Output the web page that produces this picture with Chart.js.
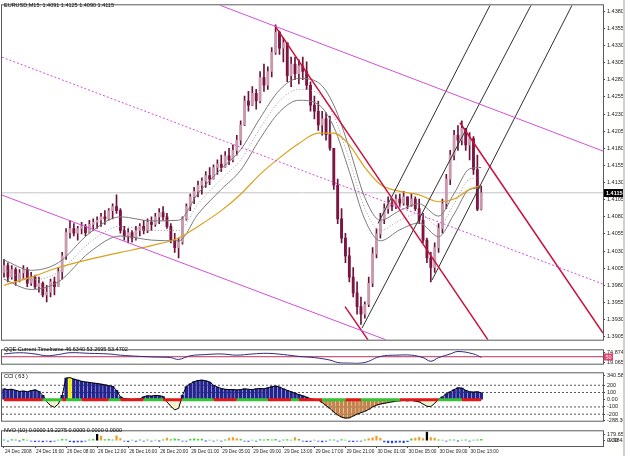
<!DOCTYPE html>
<html><head><meta charset="utf-8">
<script src="https://cdn.jsdelivr.net/npm/chart.js@4.4.1/dist/chart.umd.min.js"></script>
<style>
html,body{margin:0;padding:0;background:#fff;width:625px;height:456px;overflow:hidden;font-family:"Liberation Sans",Arial,sans-serif;}
canvas{position:absolute;left:0;}
.lbl{position:absolute;left:4px;font-size:5.5px;color:#000;white-space:nowrap;line-height:1;}
#edge{position:absolute;left:623px;top:0;width:2px;height:456px;background:#d4d0c8;}
</style></head><body>
<canvas id="cMain" width="625" height="345" style="top:0"></canvas>
<canvas id="cQqe" width="625" height="24" style="top:345px"></canvas>
<canvas id="cCci" width="625" height="58" style="top:368px"></canvas>
<canvas id="cNvo" width="625" height="30" style="top:426px"></canvas>
<div class="lbl" style="top:3px">EURUSD,M15: 1.4091 1.4125 1.4090 1.4115</div>
<div class="lbl" style="top:347px">QQE Current Timeframe 46.6340 53.2695 53.4702</div>
<div class="lbl" style="top:374px">CCI ( 63 )</div>
<div class="lbl" style="top:428px">NVO (10) 0.0000 19.2275 0.0000 0.0000 0.0000</div>
<div id="edge"></div>
<script>
// ---------------- DATA ----------------
const dateLabels = ['24 Dec 2008','24 Dec 16:00','26 Dec 08:00','26 Dec 12:00','26 Dec 16:00','26 Dec 20:00','29 Dec 01:00','29 Dec 05:00','29 Dec 09:00','29 Dec 13:00','29 Dec 17:00','29 Dec 21:00','30 Dec 01:00','30 Dec 05:00','30 Dec 09:00','30 Dec 13:00'];
const dateTickIdx = [0,8,16,24,32,40,48,56,64,72,80,88,96,104,112,120];
const priceTicks = [1.3905,1.3930,1.3955,1.3980,1.4005,1.4030,1.4055,1.4080,1.4105,1.4130,1.4155,1.4180,1.4205,1.4230,1.4255,1.4280,1.4305,1.4330,1.4355,1.4380];
const lastPrice = 1.4115;

const openP = [1.3999,1.4009,1.3992,1.4003,1.3986,1.3998,1.4003,1.3983,1.3992,1.3978,1.3983,1.3966,1.3970,1.3985,1.3978,1.4000,1.4023,1.4057,1.4063,1.4056,1.4063,1.4066,1.4057,1.4069,1.4072,1.4075,1.4080,1.4077,1.4089,1.4095,1.4089,1.4060,1.4052,1.4057,1.4049,1.4060,1.4066,1.4060,1.4072,1.4069,1.4080,1.4086,1.4080,1.4066,1.4046,1.4035,1.4043,1.4077,1.4095,1.4109,1.4117,1.4126,1.4132,1.4140,1.4135,1.4152,1.4157,1.4152,1.4169,1.4163,1.4177,1.4192,1.4214,1.4249,1.4243,1.4260,1.4249,1.4283,1.4272,1.4292,1.4320,1.4349,1.4326,1.4334,1.4286,1.4303,1.4289,1.4300,1.4292,1.4272,1.4243,1.4234,1.4214,1.4223,1.4200,1.4180,1.4126,1.4077,1.4049,1.4023,1.3992,1.3969,1.3949,1.3938,1.3952,1.3983,1.4026,1.4055,1.4077,1.4092,1.4100,1.4095,1.4106,1.4100,1.4109,1.4097,1.4106,1.4092,1.4075,1.4046,1.4020,1.4006,1.4035,1.4063,1.4099,1.4135,1.4170,1.4199,1.4192,1.4209,1.4185,1.4194,1.4149,1.4091];
const highP = [1.4018,1.4013,1.4009,1.4006,1.4003,1.4009,1.4006,1.3999,1.3995,1.3992,1.3985,1.3980,1.3989,1.3992,1.4006,1.4028,1.4063,1.4075,1.4070,1.4066,1.4072,1.4069,1.4075,1.4077,1.4080,1.4085,1.4089,1.4092,1.4099,1.4112,1.4092,1.4066,1.4063,1.4060,1.4066,1.4070,1.4075,1.4077,1.4080,1.4085,1.4092,1.4095,1.4085,1.4070,1.4056,1.4049,1.4080,1.4099,1.4113,1.4123,1.4132,1.4137,1.4146,1.4152,1.4156,1.4163,1.4170,1.4175,1.4180,1.4185,1.4199,1.4220,1.4256,1.4263,1.4270,1.4266,1.4292,1.4303,1.4299,1.4327,1.4360,1.4351,1.4341,1.4334,1.4313,1.4313,1.4309,1.4313,1.4306,1.4277,1.4256,1.4249,1.4234,1.4232,1.4227,1.4180,1.4135,1.4092,1.4056,1.4035,1.4006,1.3985,1.3963,1.3956,1.3992,1.4035,1.4063,1.4085,1.4099,1.4109,1.4106,1.4112,1.4113,1.4117,1.4109,1.4113,1.4109,1.4106,1.4085,1.4049,1.4028,1.4042,1.4070,1.4106,1.4142,1.4177,1.4206,1.4213,1.4220,1.4209,1.4203,1.4197,1.4170,1.4125];
const lowP = [1.3992,1.3985,1.3989,1.3980,1.3985,1.3989,1.3978,1.3980,1.3975,1.3970,1.3963,1.3956,1.3963,1.3966,1.3978,1.3989,1.4018,1.4049,1.4052,1.4046,1.4055,1.4052,1.4056,1.4060,1.4063,1.4066,1.4069,1.4075,1.4077,1.4085,1.4056,1.4046,1.4042,1.4043,1.4046,1.4052,1.4055,1.4057,1.4060,1.4066,1.4070,1.4075,1.4063,1.4042,1.4028,1.4020,1.4040,1.4075,1.4089,1.4099,1.4109,1.4113,1.4123,1.4127,1.4135,1.4142,1.4146,1.4152,1.4156,1.4160,1.4170,1.4185,1.4213,1.4234,1.4242,1.4237,1.4246,1.4263,1.4266,1.4284,1.4317,1.4317,1.4306,1.4277,1.4270,1.4280,1.4274,1.4280,1.4266,1.4234,1.4223,1.4206,1.4199,1.4192,1.4177,1.4120,1.4070,1.4042,1.4013,1.3985,1.3963,1.3938,1.3923,1.3932,1.3949,1.3978,1.4020,1.4049,1.4070,1.4085,1.4089,1.4092,1.4095,1.4097,1.4092,1.4095,1.4089,1.4070,1.4042,1.4013,1.3985,1.3999,1.4028,1.4056,1.4092,1.4127,1.4163,1.4177,1.4185,1.4177,1.4163,1.4142,1.4089,1.4090];
const closeP = [1.4009,1.3992,1.4003,1.3986,1.3998,1.4003,1.3983,1.3992,1.3978,1.3983,1.3966,1.3970,1.3985,1.3978,1.4000,1.4023,1.4057,1.4063,1.4056,1.4063,1.4066,1.4057,1.4069,1.4072,1.4075,1.4080,1.4077,1.4089,1.4095,1.4089,1.4060,1.4052,1.4057,1.4049,1.4060,1.4066,1.4060,1.4072,1.4069,1.4080,1.4086,1.4080,1.4066,1.4046,1.4035,1.4043,1.4077,1.4095,1.4109,1.4117,1.4126,1.4132,1.4140,1.4135,1.4152,1.4157,1.4152,1.4169,1.4163,1.4177,1.4192,1.4214,1.4249,1.4243,1.4260,1.4249,1.4283,1.4272,1.4292,1.4320,1.4349,1.4326,1.4334,1.4286,1.4303,1.4289,1.4300,1.4292,1.4272,1.4243,1.4234,1.4214,1.4223,1.4200,1.4180,1.4126,1.4077,1.4049,1.4023,1.3992,1.3969,1.3949,1.3938,1.3952,1.3983,1.4026,1.4055,1.4077,1.4092,1.4100,1.4095,1.4106,1.4100,1.4109,1.4097,1.4106,1.4092,1.4075,1.4046,1.4020,1.4006,1.4035,1.4063,1.4099,1.4135,1.4170,1.4199,1.4192,1.4209,1.4185,1.4194,1.4149,1.4091,1.4115];

// moving average / envelope (sampled at these bar indices)
const maIdx = [0,7,14,22,30,38,45,50,56,61,66,71,76,81,85,89,93,97,102,107,112,116,120,123];
const maOrange = [1.3980,1.3992,1.4006,1.4018,1.4028,1.4038,1.4049,1.4066,1.4089,1.4113,1.4142,1.4166,1.4187,1.4202,1.4202,1.4185,1.4152,1.4127,1.4117,1.4112,1.4102,1.4106,1.4120,1.4126];
const bandMid = [1.4003,1.3988,1.3999,1.4042,1.4066,1.4060,1.4060,1.4099,1.4135,1.4163,1.4209,1.4249,1.4266,1.4260,1.4227,1.4163,1.4092,1.4060,1.4075,1.4085,1.4066,1.4099,1.4135,1.4137];
const bandUpper = [1.4017,1.4002,1.4013,1.4056,1.4080,1.4074,1.4075,1.4114,1.4150,1.4178,1.4224,1.4265,1.4282,1.4276,1.4243,1.4180,1.4108,1.4075,1.4089,1.4099,1.4081,1.4114,1.4150,1.4152];
const bandLower = [1.3989,1.3974,1.3985,1.4028,1.4052,1.4046,1.4045,1.4084,1.4120,1.4148,1.4194,1.4233,1.4250,1.4244,1.4211,1.4146,1.4076,1.4045,1.4061,1.4071,1.4051,1.4084,1.4120,1.4122];

// drawn objects: [barIndex, price] end points
const channelUpper = [[55.7,1.43886],[154.38,1.41759]];
const channelMid   = [[-0.515,1.43129],[154.38,1.39819]];
const channelLower = [[-0.515,1.41117],[98.45,1.39005]];
const redLineA = [[69.85,1.43586],[124.74,1.39005]];
const redLineB = [[87.89,1.39490],[93.81,1.39005]];
const redLineC = [[117.53,1.42173],[154.38,1.39105]];
const forkA = [[96.4,1.40703],[125.26,1.43886]];
const forkB = [[92.27,1.39176],[135.82,1.43886]];
const forkC = [[110.31,1.39876],[146.39,1.43886]];

// QQE
const qqeIdx = [0,4,8,11,14,17,22,27,30,35,39,43,45,48,52,56,60,64,68,72,76,80,84,86,89,92,94,96,98,101,105,108,110,112,115,117,121,123];
const qqeVal = [65,71.6,65,55.2,61.7,71.6,68.3,65,58.5,51.9,48.6,45.3,35.5,55.2,61.7,65,58.5,65,68.3,61.7,51.9,45.3,32,19,15.8,15.8,25.6,45,55.2,58.5,58.5,45.3,25.7,45.3,65,78.2,65,46.6];
const qqeLevel = 50;
const qqeTicks = [74.8747,19.0653];

// CCI (63)
const cciVal = [150,140,145,130,115,120,110,125,135,115,60,-25,-80,-105,-60,60,300,305,285,270,255,245,240,230,225,215,205,195,185,130,40,15,10,5,8,12,40,55,50,60,55,45,-30,-90,-140,-120,60,180,220,250,265,270,260,245,200,175,155,145,140,140,135,140,150,145,140,150,155,150,165,180,190,175,150,130,110,90,70,55,35,15,5,-5,-40,-80,-120,-170,-210,-240,-255,-250,-225,-200,-180,-160,-135,-100,-75,-60,-50,-40,-30,-20,-15,-10,-15,-10,-20,-30,-60,-90,-95,-50,10,40,80,110,140,165,160,130,110,105,110,95];
const cciLightIdx = [11,12,13,14,42,43,44,45,108,109,110,111];
const cciYellowIdx = [17,112];
const cciLevels = [200,100,-100,-200];
const cciTicks = [340.585,200,100,0,-100,-200,-288.307];
const cciTickLabels = ['340.5850','200','100','0.00','-100','-200','-288.307'];
const cciTrendRuns = [['r',10],['g',5],['r',1],['g',4],['r',7],['g',3],['r',6],['g',5],['r',5],['g',8],['r',6],['g',8],['r',6],['g',2],['r',6],['g',6],['r',4],['g',10],['r',10],['g',6],['r',6]];

// NVO (10)
const nvoVal = [25,-15,30,20,-10,35,15,-20,-30,-25,-35,-20,-40,-15,10,40,30,-30,-45,-40,-35,-20,25,35,185,130,30,40,25,140,60,-20,-30,15,-25,20,-15,25,-20,15,-10,20,75,30,50,40,-15,-20,40,50,35,45,-10,15,-20,10,-15,20,70,85,60,40,-20,-25,15,-15,30,25,40,20,35,-15,20,30,15,90,40,-20,-30,-25,15,-20,-35,-15,20,25,-20,30,15,-25,-30,-20,-15,20,60,80,130,70,-40,-60,-70,-55,-45,-60,-30,50,70,95,60,250,90,70,20,15,-15,25,20,-10,15,20,-15,10,25,35];
const nvoTicks = [179.6571,0,-9.9842];
const nvoTickLabels = ['179.6571','0.00','-9.9842'];

// ---------------- CHARTS ----------------
const FONT = 'Liberation Sans';
const X_MIN = -0.515, X_MAX = 154.38;
const idx = openP.map((_, i) => i);
const pts = arr => arr.map(p => ({x: p[0], y: p[1]}));
const seg = (arr, color, width, dash) => ({type:'line', data: pts(arr), borderColor: color, borderWidth: width, borderDash: dash || [], pointRadius: 0, order: 1});
const smooth = (ix, vals, color, width, dash, order) => ({type:'line', data: ix.map((x, k) => ({x, y: vals[k]})), borderColor: color, borderWidth: width, borderDash: dash || [], pointRadius: 0, cubicInterpolationMode: 'monotone', order});

const framePlugin = {id:'frame', afterDraw(chart){
  const {ctx, chartArea:a} = chart; ctx.save(); ctx.strokeStyle = '#5a5a5a'; ctx.lineWidth = 1;
  ctx.strokeRect(a.left - 0.5, a.top - 0.5, a.right - a.left + 1, a.bottom - a.top + 1); ctx.restore();
}};

function xHidden(){ return {type:'linear', min:X_MIN, max:X_MAX, offset:false, display:false}; }
function yRight(min, max, ticks, labels){
  return {position:'right', min, max,
    afterBuildTicks: s => { s.ticks = ticks.map(v => ({value:v})); },
    afterFit: s => { s.width = 22; },
    ticks:{autoSkip:false, padding:2, color:'#222', font:{size:5.5, family:FONT}, callback:(v, i) => labels ? labels[i] : v.toFixed(4)},
    grid:{drawOnChartArea:false, tickLength:2, color:'#444'},
    border:{display:true, color:'#444'}};
}
const baseOpts = {responsive:false, animation:false, events:[], plugins:{legend:{display:false}, tooltip:{enabled:false}}};

// main price chart
new Chart(document.getElementById('cMain'), {
  type:'line',
  data:{datasets:[
    {type:'line', data:[{x:X_MIN,y:lastPrice},{x:X_MAX,y:lastPrice}], borderColor:'#c4c4c4', borderWidth:1, pointRadius:0, order:20},
    {type:'bar', data: idx.map(i => ({x:i, y:[lowP[i], highP[i]]})), backgroundColor:'#6e1238', barThickness:1, grouped:false, order:6},
    {type:'bar', data: idx.map(i => ({x:i, y:[openP[i], closeP[i]]})), backgroundColor: idx.map(i => closeP[i] >= openP[i] ? '#c89aae' : '#7d1540'), barThickness:2.2, grouped:false, order:5, minBarLength:1},
    smooth(maIdx, bandUpper, '#7a7a7a', 1, [], 3),
    smooth(maIdx, bandMid, '#9a9a9a', 1, [1,2], 3),
    smooth(maIdx, bandLower, '#7a7a7a', 1, [], 3),
    smooth(maIdx, maOrange, '#d9a21b', 1.2, [], 2),
    seg(channelUpper, '#d550d5', 1),
    seg(channelMid, '#d550d5', 1, [2,2]),
    seg(channelLower, '#d550d5', 1),
    seg(redLineA, '#c8103c', 1.5),
    seg(redLineB, '#c8103c', 1.5),
    seg(redLineC, '#c8103c', 1.5),
    seg(forkA, '#303030', 1),
    seg(forkB, '#303030', 1),
    seg(forkC, '#303030', 1)
  ]},
  options:{...baseOpts, layout:{padding:{left:2, top:2, bottom:1, right:0}},
    scales:{x:xHidden(), y:yRight(1.39007, 1.43886, priceTicks)}},
  plugins:[framePlugin, {id:'lastBox', afterDraw(chart){
    const {ctx} = chart; const y = Math.round(chart.scales.y.getPixelForValue(lastPrice)); const x = chart.chartArea.right + 1;
    ctx.save(); ctx.fillStyle = '#000'; ctx.fillRect(x, y - 4, 19, 8);
    ctx.fillStyle = '#fff'; ctx.font = 'bold 5.5px "Liberation Sans"'; ctx.textBaseline = 'middle';
    ctx.fillText(lastPrice.toFixed(4), x + 2, y + 0.5); ctx.restore();
  }}]
});

// QQE
new Chart(document.getElementById('cQqe'), {
  type:'line',
  data:{datasets:[
    {data:[{x:X_MIN,y:qqeLevel},{x:X_MAX,y:qqeLevel}], borderColor:'#b8305e', borderWidth:1, pointRadius:0, order:2},
    {data: qqeIdx.map((x, k) => ({x, y:qqeVal[k]})), borderColor:'#34287e', borderWidth:1, pointRadius:0, tension:0.4, order:1}
  ]},
  options:{...baseOpts, layout:{padding:{left:2, top:1, bottom:1, right:0}},
    scales:{x:xHidden(), y:yRight(12.5, 84.7, qqeTicks)}},
  plugins:[framePlugin, {id:'lvlBox', afterDraw(chart){
    const {ctx} = chart; const y = Math.round(chart.scales.y.getPixelForValue(qqeLevel)); const x = chart.chartArea.right + 1;
    ctx.save(); ctx.fillStyle = '#e2406a'; ctx.fillRect(x, y - 3.5, 9, 7);
    ctx.fillStyle = '#fff'; ctx.font = '5.5px "Liberation Sans"'; ctx.textBaseline = 'middle';
    ctx.fillText(String(qqeLevel), x + 1.5, y + 0.5); ctx.restore();
  }}]
});

// CCI
const trend = [];
cciTrendRuns.forEach(([c, n]) => { for (let k = 0; k < n; k++) trend.push(c); });
const cciColor = i => cciYellowIdx.includes(i) ? '#f4f000' : cciLightIdx.includes(i) ? '#f3f0c8' : (cciVal[i] >= 0 ? '#23238f' : '#c3834a');
new Chart(document.getElementById('cCci'), {
  type:'line',
  data:{datasets:[
    ...cciLevels.map(l => ({data:[{x:X_MIN,y:l},{x:X_MAX,y:l}], borderColor:'#555', borderWidth:1, borderDash:[2,2], pointRadius:0, order:9})),
    {type:'bar', data: idx.map(i => ({x:i, y:cciVal[i]})), backgroundColor: idx.map(cciColor), barThickness:2.8, grouped:false, order:5},
    {data: idx.map(i => ({x:i, y:cciVal[i]})), borderColor:'#000', borderWidth:1, pointRadius:0, order:3},
    {data: idx.map(i => ({x:i, y:0})), borderWidth:3, pointRadius:0, order:2,
      segment:{borderColor: c => trend[c.p0DataIndex] === 'g' ? '#33c433' : '#e01818'}, borderColor:'#e01818'}
  ]},
  options:{...baseOpts, layout:{padding:{left:2, top:2, bottom:1, right:0}},
    scales:{x:xHidden(), y:yRight(-290, 365, cciTicks, cciTickLabels)}},
  plugins:[framePlugin]
});

// NVO
const nvoColor = v => v < 0 ? '#2a48e6' : v >= 150 ? '#000000' : v >= 60 ? '#f0a030' : '#3fd43f';
new Chart(document.getElementById('cNvo'), {
  type:'bar',
  data:{datasets:[
    {data: idx.map(i => ({x:i, y:nvoVal[i]})), backgroundColor: nvoVal.map(nvoColor), barThickness:1.6, grouped:false}
  ]},
  options:{...baseOpts, layout:{padding:{left:2, top:1, bottom:0, right:0}},
    scales:{
      x:{type:'linear', min:X_MIN, max:X_MAX, offset:false, position:'bottom',
        afterBuildTicks: s => { s.ticks = dateTickIdx.map(v => ({value:v})); },
        afterFit: s => { s.height = 10; },
        ticks:{align:'start', maxRotation:0, minRotation:0, autoSkip:false, padding:1, labelOffset:1, color:'#222', font:{size:4.7, family:FONT}, callback:(v, i) => dateLabels[i]},
        grid:{drawOnChartArea:false, tickLength:2, color:'#444', offset:false},
        border:{display:true, color:'#444'}},
      y: yRight(-157, 269.5, nvoTicks, nvoTickLabels)
    }},
  plugins:[framePlugin]
});
</script>
</body></html>
